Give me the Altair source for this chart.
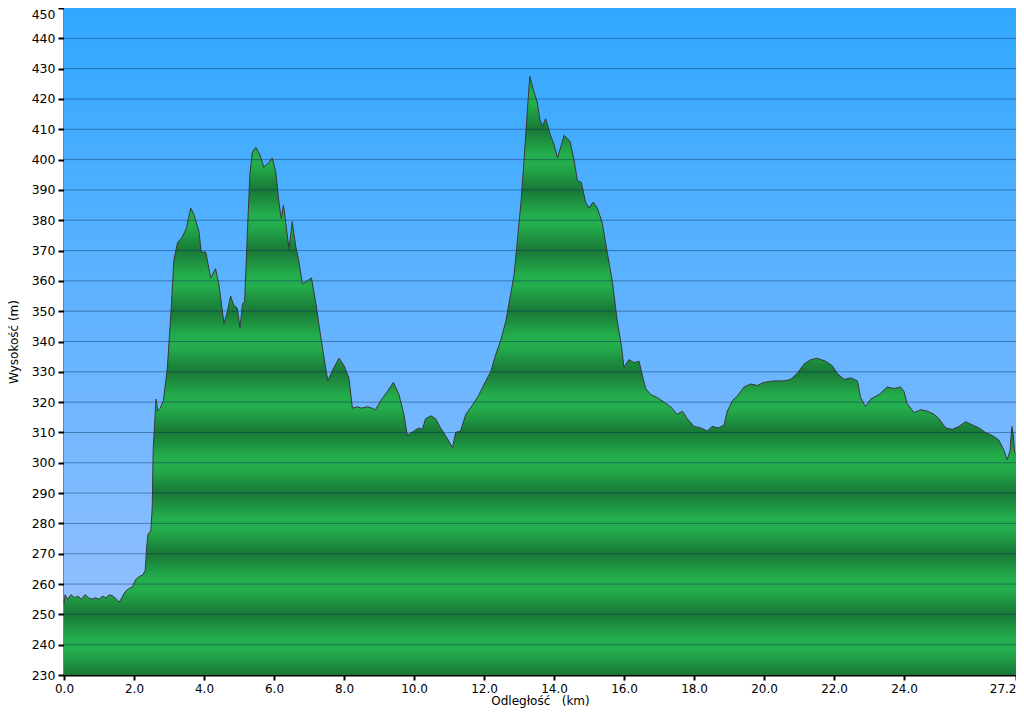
import altair as alt
import pandas as pd

km = [0.00, 0.03, 0.10, 0.20, 0.30, 0.40, 0.50, 0.60, 0.70, 0.80, 0.90, 1.00, 1.10, 1.20, 1.30, 1.40,
      1.50, 1.58, 1.65, 1.75, 1.85, 1.95, 2.05, 2.15, 2.25, 2.32, 2.36, 2.40, 2.48, 2.52, 2.55, 2.60,
      2.63, 2.68, 2.75, 2.84, 2.95, 3.05, 3.14, 3.24, 3.38, 3.50, 3.62, 3.71, 3.86, 3.92, 4.05, 4.19,
      4.33, 4.43, 4.57, 4.65, 4.76, 4.85, 4.95, 5.03, 5.10, 5.16, 5.24, 5.31, 5.38, 5.48, 5.60, 5.71,
      5.86, 5.95, 6.05, 6.14, 6.21, 6.27, 6.33, 6.43, 6.52, 6.62, 6.71, 6.81, 6.95, 7.07, 7.19, 7.33,
      7.43, 7.54, 7.67, 7.86, 8.00, 8.14, 8.24, 8.38, 8.50, 8.67, 8.80, 8.90, 9.05, 9.24, 9.41, 9.57,
      9.71, 9.81, 10.00, 10.14, 10.24, 10.33, 10.48, 10.62, 10.76, 10.90, 11.10, 11.19, 11.33, 11.48,
      11.67, 11.86, 12.05, 12.19, 12.33, 12.48, 12.62, 12.76, 12.86, 12.95, 13.05, 13.14, 13.24, 13.31,
      13.41, 13.52, 13.60, 13.67, 13.76, 13.90, 14.00, 14.10, 14.29, 14.46, 14.57, 14.67, 14.78, 14.90,
      15.00, 15.12, 15.24, 15.38, 15.52, 15.67, 15.81, 15.92, 16.00, 16.14, 16.29, 16.43, 16.52, 16.62,
      16.76, 16.95, 17.14, 17.33, 17.52, 17.67, 17.81, 18.00, 18.19, 18.38, 18.52, 18.70, 18.86, 18.95,
      19.10, 19.24, 19.43, 19.62, 19.81, 20.00, 20.29, 20.57, 20.76, 20.95, 21.14, 21.33, 21.52, 21.76,
      21.95, 22.09, 22.29, 22.48, 22.67, 22.76, 22.90, 23.05, 23.29, 23.52, 23.71, 23.90, 24.00, 24.09,
      24.29, 24.48, 24.67, 24.86, 25.00, 25.19, 25.38, 25.57, 25.76, 25.95, 26.14, 26.33, 26.52, 26.71,
      26.86, 26.95, 27.03, 27.08, 27.12, 27.16, 27.20]

elev = [253.5, 256.5, 255.0, 256.5, 255.5, 256.0, 255.0, 256.5, 255.5, 255.0, 255.5, 255.0, 256.0, 255.5, 256.5, 256.0,
        255.0, 254.0, 255.5, 257.5, 258.5, 259.0, 261.5, 262.5, 263.0, 264.5, 272.0, 276.5, 277.5, 285.0, 305.0, 315.0,
        321.0, 317.0, 318.0, 320.5, 331.0, 348.5, 367.0, 372.5, 374.5, 377.5, 384.0, 382.0, 376.0, 369.5, 369.5, 361.0,
        364.0, 358.5, 346.0, 349.0, 355.0, 352.0, 351.0, 344.5, 352.5, 353.0, 376.0, 395.0, 402.5, 404.0, 401.5, 397.5,
        399.0, 400.5, 396.0, 386.0, 380.5, 385.0, 379.5, 370.5, 379.5, 371.5, 366.5, 359.0, 360.0, 361.0, 353.0, 342.0,
        334.5, 327.0, 330.5, 334.5, 332.0, 328.0, 318.0, 318.5, 318.0, 318.5, 318.0, 317.5, 320.5, 323.5, 326.5, 322.5,
        316.0, 309.0, 310.5, 311.5, 311.0, 314.5, 315.5, 314.5, 311.5, 309.0, 305.0, 310.0, 310.5, 316.0,
        319.0, 322.5, 327.0, 330.0, 335.5, 340.5, 346.5, 355.5, 362.0, 373.0, 385.0, 399.0, 416.5, 427.5,
        423.0, 419.0, 413.0, 411.0, 413.5, 408.0, 405.0, 400.5, 408.0, 406.0, 400.0, 393.0, 392.5, 386.0,
        384.0, 386.0, 384.0, 379.0, 369.5, 359.5, 346.5, 339.0, 331.5, 334.0, 333.0, 333.5, 329.0, 324.5,
        322.5, 321.5, 320.0, 318.5, 316.0, 317.0, 314.5, 312.0, 311.5, 310.5, 312.0, 311.5, 312.5, 317.0,
        320.5, 322.0, 325.0, 326.0, 325.5, 326.5, 327.0, 327.0, 327.5, 329.5, 332.5, 334.0, 334.5, 333.5,
        332.0, 329.5, 327.5, 328.0, 327.0, 321.5, 318.5, 321.0, 322.5, 325.0, 324.5, 325.0, 323.5, 319.5,
        316.5, 317.5, 317.0, 316.0, 314.5, 311.5, 311.0, 312.0, 313.5, 312.5, 311.5, 310.0, 309.0, 307.5,
        304.0, 301.0, 304.0, 312.0, 309.5, 303.5, 303.0]

y_ticks = list(range(230, 451, 10))
x_ticks = [0.0, 2.0, 4.0, 6.0, 8.0, 10.0, 12.0, 14.0, 16.0, 18.0, 20.0, 22.0, 24.0, 27.2]

W, H = 952, 667
Y_MIN, Y_MAX = 230, 450
X_MAX = 27.2

df = pd.DataFrame({"km": km, "elev": elev})
grid_df = pd.DataFrame({"elev": y_ticks[1:-1]})

# striped green fill (bands repeat every 20 m), expressed in the area's bounding box
DARK = (24, 120, 54)
LIGHT = (36, 173, 76)


def band_color(v):
    p = (v - Y_MIN) % 20
    if p < 8:
        t = p / 8
    elif p <= 12:
        t = 1.0
    else:
        t = (20 - p) / 8
    c = [round(DARK[i] + (LIGHT[i] - DARK[i]) * t) for i in range(3)]
    return "#%02x%02x%02x" % tuple(c)


top = max(elev)
levels = [top] + [float(v) for v in range(int(top), Y_MIN - 1, -1)]
stops = []
for v in levels:
    off = (top - v) / (top - Y_MIN)
    stops.append(alt.GradientStop(color=band_color(v), offset=round(min(max(off, 0), 1), 5)))

green = alt.LinearGradient(gradient="linear", stops=stops, x1=0, x2=0, y1=0, y2=1)
sky = alt.LinearGradient(
    gradient="linear",
    stops=[alt.GradientStop(color="#30a8ff", offset=0),
           alt.GradientStop(color="#66b4ff", offset=0.5),
           alt.GradientStop(color="#9cc2ff", offset=1)],
    x1=0, x2=0, y1=0, y2=1,
)

x_scale = alt.Scale(domain=[0, X_MAX], nice=False)
y_scale = alt.Scale(domain=[Y_MIN, Y_MAX], nice=False, zero=False)

x_axis = alt.Axis(values=x_ticks, format=".1f",
                  title="Odległość\u00a0\u00a0 (km)",
                  labelAlign=alt.expr("datum.value > 27 ? 'right' : 'center'"),
                  tickSize=5, labelPadding=3, titlePadding=1, grid=False)
y_axis = alt.Axis(values=y_ticks, title="Wysokość (m)",
                  labelBaseline=alt.expr("datum.value >= 450 ? 'top' : 'middle'"),
                  labelOverlap=False, labelFontSize=12.5,
                  tickSize=6, labelPadding=3, titlePadding=11, grid=False)

bg = alt.Chart(pd.DataFrame({"a": [0]})).mark_rect(color=sky, opacity=1).encode(
    x=alt.value(0), x2=alt.value(W), y=alt.value(0), y2=alt.value(H)
)

area = alt.Chart(df).mark_area(
    color=green, opacity=1,
    line={"color": "#383838", "strokeWidth": 1},
).encode(
    x=alt.X("km:Q", scale=x_scale, axis=x_axis),
    y=alt.Y("elev:Q", scale=y_scale, axis=y_axis),
    y2=alt.datum(Y_MIN),
)

grid = alt.Chart(grid_df).mark_rule(color="#08305a", opacity=0.45, strokeWidth=1).encode(
    y=alt.Y("elev:Q", scale=y_scale, axis=y_axis),
    x=alt.value(0), x2=alt.value(W),
)

chart = alt.layer(bg, area, grid).properties(
    width=W, height=H,
    autosize=alt.AutoSizeParams(type="none"),
    padding={"left": 56, "top": 0, "right": 0, "bottom": 33},
).configure_axis(
    labelFont="DejaVu Sans", labelFontSize=12, labelColor="#000000",
    titleFont="DejaVu Sans", titleFontSize=12, titleColor="#000000", titleFontWeight="normal",
    domainColor="#000000", domainWidth=2, tickColor="#000000", tickWidth=2,
).configure_view(stroke=None)

chart.save("out.html", embed_options={"renderer": "svg", "actions": False})
